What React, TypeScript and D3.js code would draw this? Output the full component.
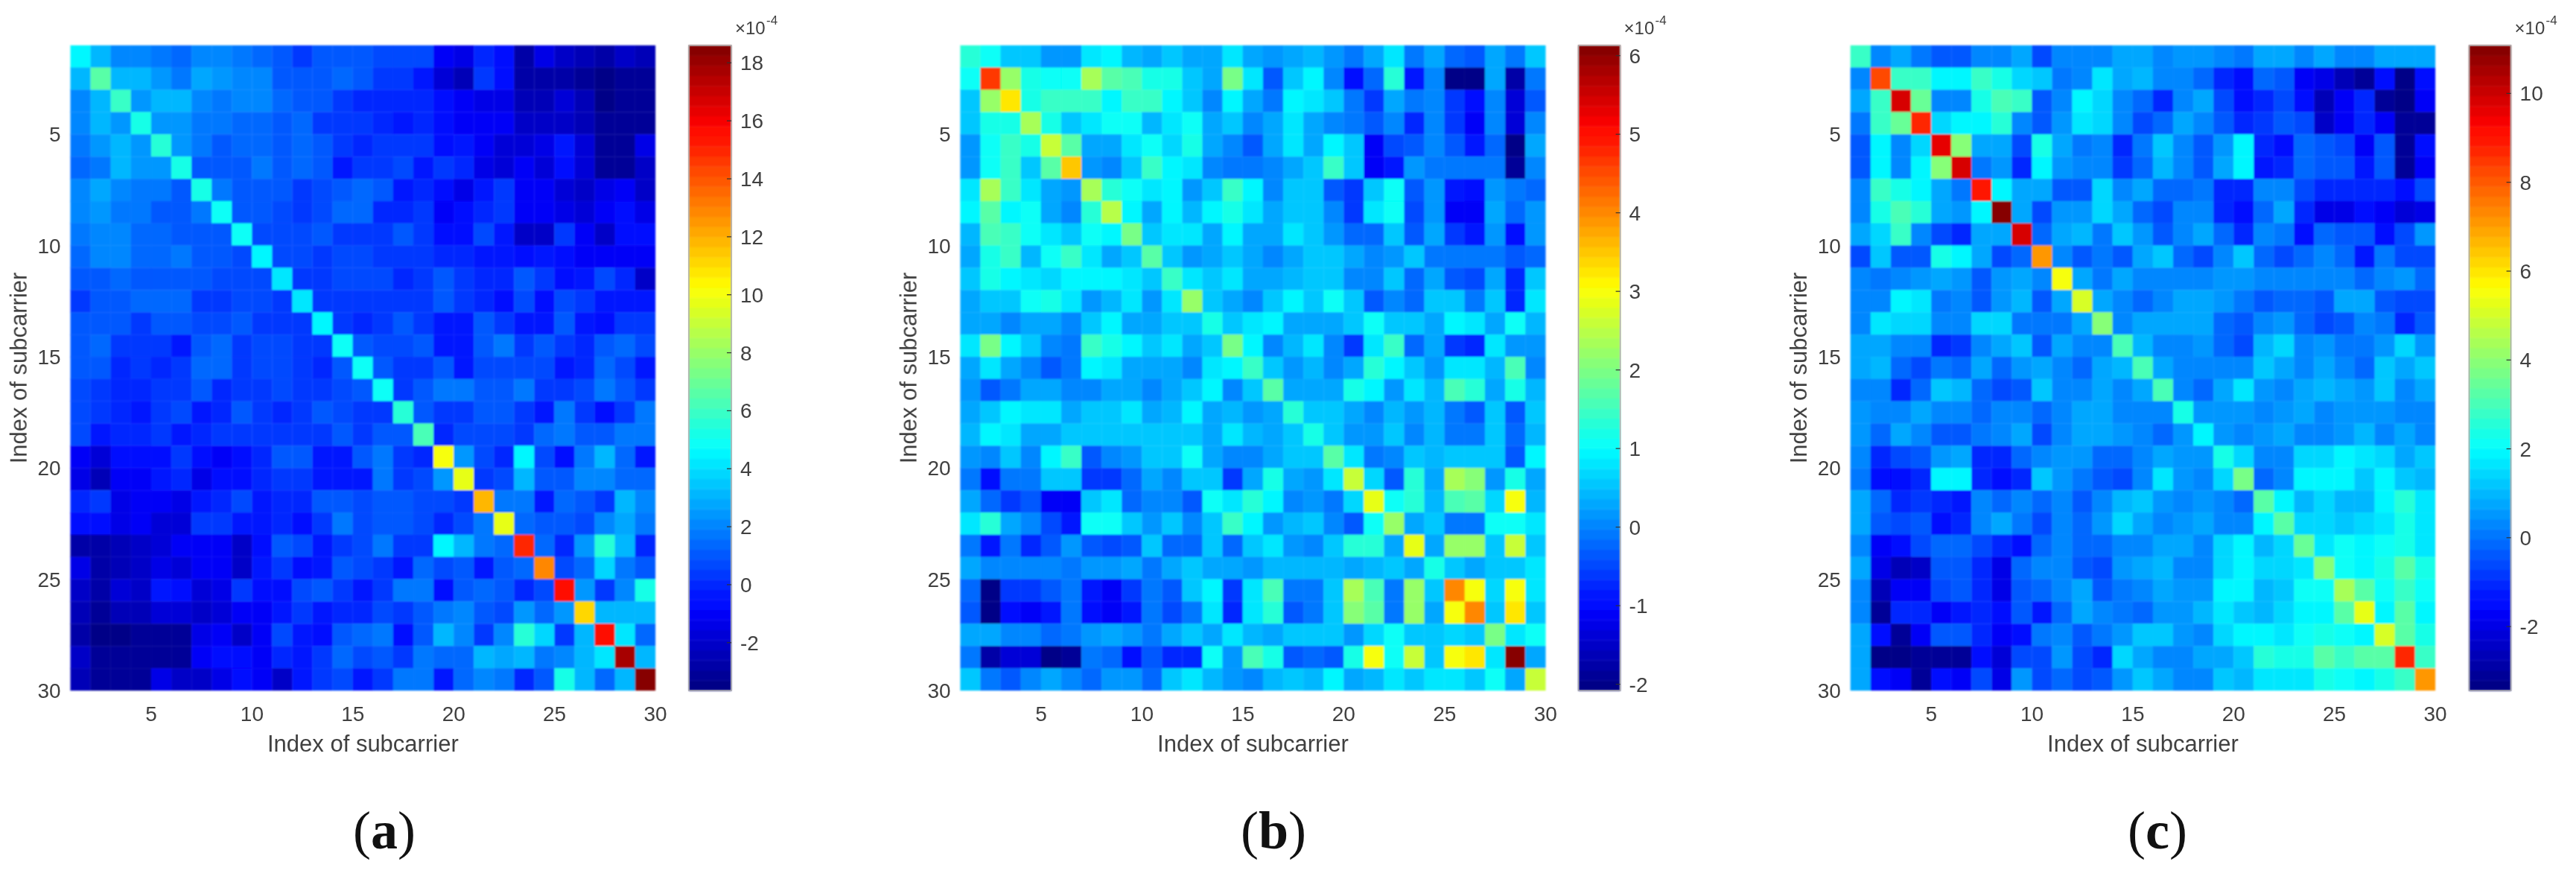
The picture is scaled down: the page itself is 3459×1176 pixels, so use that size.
import React from "react";
import * as d3 from "d3";

const axisTicks = [5, 10, 15, 20, 25, 30];
const axisTitle = "Index of subcarrier";

// Upper triangle of each symmetric matrix (x 1e-4): row r holds columns r..29
const matrixA = [
  [4.6,3.2,2.2,2,1.7,1.4,2.2,2,1.7,1.4,1,.5,.9,.9,1,.8,.8,.8,-.9,-1.3,-.1,-.8,-2.8,-1.4,-2,-2.6,-2.9,-2.2,-2.4],
  [6.6,3.3,3.3,2.4,1.9,2.8,2.4,2.2,2,1.2,.9,.9,1.4,1.2,.5,.5,-.3,-1.9,-2.3,.4,-.8,-2.9,-2.7,-2.7,-3.2,-3.6,-3.1,-3],
  [6,2.6,3.3,3,2.2,1.9,2,2,1.4,1.2,.9,.5,0,.1,.1,.1,-.8,-.9,-1.3,-1.3,-2.3,-2.3,-1.8,-2.5,-3.5,-3.2,-3.2],
  [5.1,2.4,2.4,1.7,1.7,1.4,1.4,1,1.4,.5,.5,.4,.1,-.5,.1,-.6,-.9,-1.2,-1.2,-2.2,-2,-2.2,-2.6,-3.2,-3.2,-3.1],
  [5.5,2.6,1.7,.9,1.5,1.4,.9,1.5,1.2,.2,.1,.5,.5,.2,-.7,-.3,-1.1,-1.6,-1.8,-1.4,-.5,-1.6,-3.2,-3.2,-1.4],
  [5.2,.9,.9,1.1,1.6,.9,1.4,.9,-.3,.2,.2,.6,-.5,.3,0,-1.4,-1.8,-1.1,-1.8,-.8,-1.6,-3.1,-3.1,-2.2],
  [5.1,1.9,1.2,1,1,.3,.6,1.2,1.3,.9,-.5,.1,-.8,-1.3,-.3,.2,-1.1,-.9,-1.8,-2.2,-1.5,-.9,-2.2],
  [4.7,1,1,.6,.3,.6,1.4,1.3,.1,.1,.5,-.9,-.8,.1,.5,-1.1,-.9,-1.3,-1.6,-1.1,-.8,-1.3],
  [4.7,.7,.7,.7,.9,.5,.5,.4,1,.5,-.7,-.7,.6,-.5,-2,-2,.5,-1.2,-2.2,-.8,-.6],
  [4.5,.6,.6,.3,.6,.6,.3,.3,.3,0,0,-.2,-.2,-.6,-.3,-.8,-1.2,-1.2,-1.2,-1.2],
  [4,.5,.3,.6,.6,.6,.1,.5,1,.2,0,0,1,.3,-.8,-.5,.6,0,-2],
  [4,.3,.3,.4,.5,.5,.5,.9,.5,0,-.7,.7,-.7,.6,.3,-.5,-.5,-.5],
  [4.5,.3,.1,.5,.9,.5,-.4,-.4,1.2,.5,-.4,-.4,.9,-.2,-.8,.2,.5],
  [4.7,1.1,.7,.7,1,-.2,-.2,.9,1.6,.2,.9,.3,0,1,1.4,.7],
  [5,1.1,.3,.5,1,-.3,.7,.7,.7,.7,-.3,-.1,1.5,.6,-.5],
  [5,.2,1.2,1.9,1.6,.9,.9,1.7,.3,.3,.6,1.6,.9,.5],
  [5.7,1,.2,.5,1.1,.9,.2,-.4,1.9,.5,-.6,.3,1.9],
  [6.4,.1,.6,.6,.6,.2,1.4,1.7,1,.9,1.7,1.7],
  [10.2,2.4,.6,-.1,4.6,.6,-.8,1.7,3.3,1.4,-.4],
  [9.7,.2,.6,3.3,1,1,2,2,1.3,1.3],
  [11.7,1.7,1.7,-.2,1.4,.9,.5,3.3,2.2],
  [9.7,1.4,1.1,1.1,.6,2,2.8,1.6],
  [14.8,1.5,-.1,2.4,5.7,3.3,.1],
  [12.7,.6,1.4,3.7,1.9,1.2],
  [15.6,2.6,.3,2.2,5.3],
  [11,3,3,3],
  [15.6,4,1.5],
  [17.7,3],
  [18.6],
];

const matrixB = [
  [1.3,1,.6,.5,.2,.2,.75,.9,.42,.35,.6,.35,.35,.75,.35,.2,.3,.42,.2,-.15,.25,.75,-.15,.25,-.2,-.4,.35,-.1,.5],
  [4.6,2.2,1.25,1.1,1.1,2.35,1.65,1.6,1.15,1.25,.5,.25,1.9,.75,-.35,.5,.9,.05,-1.05,-.2,1.35,-.9,.05,-2,-2.05,.25,-1.8,-.15],
  [3.3,1.25,1.5,1.5,1.4,.9,1.4,1.4,.9,.6,0,.9,.25,-.1,.95,.8,.6,-.1,-.55,.25,-.15,.05,-.65,-1.05,0,-1.35,-.3],
  [2.3,1.25,.55,.75,1.1,1.05,.42,.75,1.1,.35,.5,0,.3,.85,.35,.1,-.1,-.3,.05,-.75,.1,-.55,-1.1,0,-1.35,.05],
  [2.55,1.75,.3,.3,.85,1,.7,1.2,.25,0,-.3,.25,.85,.3,.9,.5,-1.1,-.45,-.35,.05,-.3,-.8,-.2,-2,.25],
  [3.5,.12,0,.5,1.5,.9,.8,.05,-.15,-.15,.1,.3,.55,1.4,.5,-1.1,-.8,.2,-.15,-.15,-.15,-.15,-1.95,.05],
  [2.4,1.35,1.1,.85,.9,.2,.5,1.5,.95,.05,.5,.6,-.3,-.6,.5,1.1,-.35,.2,-.85,-1,.2,-.15,-.2],
  [2.45,.95,.3,.95,.42,.9,1.25,.8,.25,.6,.6,0,-.55,.75,1.05,-.45,.2,-1.1,-1.1,.3,-.2,.2],
  [1.9,.6,.75,.75,.25,.95,.35,.25,.75,.55,.2,-.2,-.2,.55,-.35,.25,-.55,-.85,.2,-1.05,.2],
  [1.75,.55,.2,.3,.5,.3,.1,.25,.55,.55,.25,0,.2,.5,-.1,-.1,-.1,-.1,-.35,-.2],
  [1.5,.8,.5,.75,.35,.3,.42,.6,.6,.05,0,.5,-.2,.25,-.4,-.45,.35,-.7,.55],
  [2.25,.55,.25,.1,.5,.9,.55,1.05,.6,-.35,.1,-.2,.5,.5,-.1,.5,-.75,.75],
  [1.25,.5,.85,.95,.35,.35,.35,.6,1.05,.5,.5,.35,.95,.8,.35,1.05,.42],
  [1.9,.95,.05,.42,.75,.1,-.55,.75,1.4,-.2,.3,-.55,-.75,.75,.2,.2],
  [1.4,.55,.2,.42,.05,.3,1.3,.9,.55,.2,.8,.8,.42,1.55,.05],
  [1.65,.25,.25,.35,1.25,.9,.2,.75,.4,1.6,1.3,.3,1.15,.42],
  [1.3,.55,.55,.25,.1,.42,.2,.42,-.1,-.3,.5,-.3,.55],
  [1.15,.55,.2,.2,.55,.05,.42,-.1,-.15,.55,-.2,.42],
  [1.75,.75,-.15,0,.55,.42,.55,.55,.55,-.35,.9],
  [2.55,.7,-.4,1.35,.35,2.4,2.15,.2,1.25,.35],
  [2.8,1,1.35,.42,1.55,1.65,.7,3.05,.42],
  [2.2,.3,.55,-.05,-.05,1.05,1.1,.75],
  [2.85,.3,2.2,2.2,.5,2.55,.6],
  [1.25,.55,.35,.6,.5,.8],
  [3.95,3.05,.7,2.95,.75],
  [3.95,.5,3.2,.5],
  [1.9,.75,1.05],
  [6.13,.35],
  [2.6],
];

const matrixC = [
  [2.8,.3,.65,.05,-.4,-.4,.4,.2,.85,-.7,.2,.2,.2,.65,.75,.3,.5,.5,.3,.05,.65,.85,.3,.65,.3,.3,.65,.65,.65],
  [8.35,2.9,2.9,2,2,2.7,2.45,1.35,1.2,.05,.2,1.6,.65,1,.3,.2,-.15,-1,-1.6,-.15,-.3,-1.7,-2,-2.6,-3,-1.4,-3.3,-1.6],
  [9.85,3.4,.4,.2,2.45,3.1,2.9,-.4,.3,1.95,1.4,.4,-.05,-.95,.3,.75,-.5,-1.6,-.95,-.7,-1.6,-2.7,-1.8,-1.15,-3.1,-3.35,-1.7],
  [8.8,1.35,1.8,1.8,2.65,.4,-.4,.5,1.7,1.4,.3,-.5,-.15,.85,.4,-.3,-1,-.9,-.3,-.7,-2.4,-1.8,-1.15,-1.7,-3.2,-3.2],
  [9.6,4,.75,.7,-.7,2.4,.65,.05,.3,-.95,.05,1.15,.4,-.4,.5,1.85,-1.15,-1.4,-.05,-.3,-.5,-1.8,-.4,-3.1,-1.4],
  [9.8,.05,.5,-.95,1.95,.5,.2,.2,-.85,-.05,1,.4,-.4,.85,1.85,-1.25,-1.15,-.05,-.3,-.3,-1.25,-.3,-3,-1.7],
  [9,1.8,.75,.65,-.4,-.4,1.4,.3,.85,-.05,-.05,.05,-1,-1.15,.4,.4,-.7,-1.15,-1.15,-1.15,-1,-1.6,-.6],
  [11.08,.75,-.6,.5,.5,1.4,.75,-.05,-.6,.4,.4,-1,-1.4,-.05,.65,-.95,-2,-1.9,-1.5,-1.7,-2.3,-1.9],
  [9.85,-.15,.75,1,.05,1.1,.5,-.4,.3,.65,-.05,-1.15,.2,.05,-1.4,-.15,-.4,-.4,-1.5,-.6,.5],
  [7.2,.3,-.3,.05,-.4,.85,1.1,-.15,-.5,.3,1.1,-.15,-.5,-.05,.2,-.15,-1.25,.05,-.7,-.5],
  [5.6,.75,.05,.75,.2,.4,.4,.2,.5,.5,.3,.4,.4,.4,.4,-.05,.3,.5,-.15],
  [5.15,.75,.3,-.25,.3,.75,.75,.5,.05,-.4,-.15,-.15,-.4,.65,.8,-.3,-.5,-.5],
  [3.9,.3,.65,.65,.65,.65,-.05,-.3,.4,.6,-.05,-.7,-.3,.2,.05,-.95,-.4],
  [2.95,1,.2,.3,.5,-.05,-.5,1,1.4,.3,.5,.05,.05,.5,1.4,.5],
  [3.1,.75,.3,.3,.3,.2,1.1,.85,.4,.75,.2,-.05,1.1,.65,1.15],
  [2.95,.3,-.05,.75,1.6,.5,.3,.75,1,.8,.55,1.1,.4,.85],
  [2.4,.5,.5,.5,.3,.55,.65,.2,.6,.6,.5,.3,.2],
  [2,.45,.35,.5,.75,.4,.4,.55,1,.3,.65,.4],
  [2.45,1.5,.2,.2,1.35,1.35,1.85,1.6,1.4,.65,1.1],
  [3.8,-.05,.2,1.85,1.85,1.85,1.25,1.85,1.15,1],
  [3.15,1.85,1,1.5,1,1,1.9,2.65,1.6],
  [3.2,1.35,1.35,1.15,1.35,1.6,2.4,1.6],
  [3.4,1.7,2.2,2,2.15,2.4,1.6],
  [3.85,2.1,2,2.45,3.35,2.45],
  [4.5,3.15,2.15,2.7,2.2],
  [5.4,2,3.35,2],
  [5.15,3.3,2.4],
  [8.8,2.7],
  [7.2],
];

const colorbarTicksA = [-2, 0, 2, 4, 6, 8, 10, 12, 14, 16, 18];
const colorbarTicksB = [-2, -1, 0, 1, 2, 3, 4, 5, 6];
const colorbarTicksC = [-2, 0, 2, 4, 6, 8, 10];

const panels = [
  { letter: "a", matrix: matrixA, lo: -3.65, hi: 18.6, cbTicks: colorbarTicksA, left: 94.7, right: 880, cbLeft: 925, cbRight: 982, capCx: 516 },
  { letter: "b", matrix: matrixB, lo: -2.08, hi: 6.13, cbTicks: colorbarTicksB, left: 1289.6, right: 2075.3, cbLeft: 2119.5, cbRight: 2175.6, capCx: 1710 },
  { letter: "c", matrix: matrixC, lo: -3.44, hi: 11.08, cbTicks: colorbarTicksC, left: 2484.9, right: 3270, cbLeft: 3315.5, cbRight: 3371.6, capCx: 2897 },
];

const TOP = 61;
const BOTTOM = 927;
const FONT = "'Liberation Sans', Arial, sans-serif";
const INK = "#404040";

const clamp01 = (v: number) => Math.max(0, Math.min(1, v));
const jet = d3.range(64).map((i) => {
  const t = (i + 0.5) / 64;
  const c = (u: number) => Math.round(255 * clamp01(1.5 - Math.abs(4 * t - u)));
  return d3.rgb(c(3), c(2), c(1)).formatHex();
});

function Panel({ p }: { p: (typeof panels)[number] }) {
  const x = d3.scaleLinear().domain([1, 30]).range([p.left, p.right]);
  const y = d3.scaleLinear().domain([1, 30]).range([TOP, BOTTOM]);
  const color = d3.scaleQuantize<string>().domain([p.lo, p.hi]).range(jet);
  const cb = d3.scaleLinear().domain([p.lo, p.hi]).range([BOTTOM, TOP]);
  const cells: React.ReactNode[] = [];
  p.matrix.forEach((row, r) =>
    row.forEach((v, k) => {
      const c = r + k;
      const pair = c === r ? [[r, c]] : [[r, c], [c, r]];
      pair.forEach(([ri, ci]) =>
        cells.push(
          <rect
            key={`${ri}-${ci}`}
            x={x(ci + 1)}
            y={y(ri + 1)}
            width={x(ci + 2) - x(ci + 1)}
            height={y(ri + 2) - y(ri + 1)}
            fill={color(v)}
            stroke={color(v)}
            strokeWidth={0.3}
          />
        )
      );
    })
  );
  const levelH = (BOTTOM - TOP) / 64;
  return (
    <g>
      <g filter="url(#soften)">
        {cells}
        {jet.map((col, i) => (
          <rect key={`cb${i}`} x={p.cbLeft} y={BOTTOM - (i + 1) * levelH} width={p.cbRight - p.cbLeft} height={levelH + 0.4} fill={col} />
        ))}
      </g>
      <g filter="url(#softenText)">
        {axisTicks.map((t) => (
          <text key={`x${t}`} x={x(t)} y={968} textAnchor="middle" fontSize={28} fontFamily={FONT} fill={INK}>{t}</text>
        ))}
        {axisTicks.map((t) => (
          <text key={`y${t}`} x={p.left - 13} y={y(t) + 10} textAnchor="end" fontSize={28} fontFamily={FONT} fill={INK}>{t}</text>
        ))}
        <text x={(p.left + p.right) / 2} y={1009} textAnchor="middle" fontSize={31} fontFamily={FONT} fill={INK}>{axisTitle}</text>
        <text
          transform={`translate(${p.left - 59},${(TOP + BOTTOM) / 2}) rotate(-90)`}
          textAnchor="middle"
          fontSize={31}
          fontFamily={FONT}
          fill={INK}
        >{axisTitle}</text>
        <rect x={p.cbLeft} y={TOP} width={p.cbRight - p.cbLeft} height={BOTTOM - TOP} fill="none" stroke="#a8a8a8" strokeWidth={1.5} />
        {p.cbTicks.map((t) => (
          <g key={`cbt${t}`}>
            <line x1={p.cbRight - 6} x2={p.cbRight} y1={cb(t)} y2={cb(t)} stroke="#303030" strokeWidth={1.2} />
            <text x={p.cbRight + 12} y={cb(t) + 10} fontSize={28} fontFamily={FONT} fill={INK}>{t}</text>
          </g>
        ))}
        <text x={p.cbRight + 5} y={46} fontSize={24} fontFamily={FONT} fill={INK}>×10</text>
        <text x={p.cbRight + 47} y={33} fontSize={17} fontFamily={FONT} fill={INK}>-4</text>
      </g>
      <text x={p.capCx} y={1139} textAnchor="middle" fontSize={72} fontFamily="'Liberation Serif', serif" fill="#111">
        (<tspan fontWeight="bold">{p.letter}</tspan>)
      </text>
    </g>
  );
}

export default function App() {
  return (
    <svg
      width={3459}
      height={1176}
      viewBox="0 0 3459 1176"
      style={{ position: "absolute", left: 0, top: 0, display: "block", background: "#fff" }}
    >
      <defs>
        <filter id="soften" x="0" y="0" width="3459" height="1176" filterUnits="userSpaceOnUse">
          <feGaussianBlur stdDeviation="0.9" />
        </filter>
        <filter id="softenText" x="0" y="0" width="3459" height="1176" filterUnits="userSpaceOnUse">
          <feGaussianBlur stdDeviation="0.7" />
        </filter>
      </defs>
      {panels.map((p) => (
        <Panel key={p.letter} p={p} />
      ))}
    </svg>
  );
}
